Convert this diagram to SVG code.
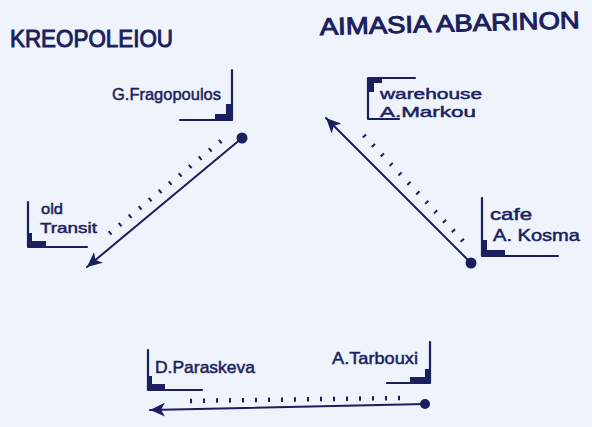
<svg xmlns="http://www.w3.org/2000/svg" width="592" height="427" viewBox="0 0 592 427">
<defs>
<style>
.ink{fill:none;stroke:#1b1f5e;stroke-width:2;stroke-linecap:round;stroke-linejoin:round}
.br{fill:none;stroke:#1b1f5e;stroke-width:2.2;stroke-linecap:round;stroke-linejoin:round}
.fill{fill:#1b1f5e}
.tick{fill:none;stroke:#1b1f5e;stroke-width:4.5;stroke-dasharray:2 11}
.lbl{font-family:"Liberation Sans",Arial,sans-serif;font-size:17px;fill:#1b1f5e;stroke:#1b1f5e;stroke-width:0.5}
.sm{font-size:15.5px}
.ttl{font-family:"Liberation Sans",Arial,sans-serif;font-size:24px;fill:#1b1f5e;stroke:#1b1f5e;stroke-width:1}
</style>
<marker id="ah" markerUnits="userSpaceOnUse" viewBox="0 0 16 14" markerWidth="16" markerHeight="14" refX="15" refY="7" orient="auto">
<path d="M15,7 L0,0 L4,7 L0,14 Z" fill="#1b1f5e"/>
</marker>
</defs>
<rect width="592" height="427" fill="#eef3fc"/>
<text class="ttl" x="10" y="47" textLength="163" lengthAdjust="spacingAndGlyphs">KREOPOLEIOU</text>
<text class="ttl" x="320" y="35" textLength="260" lengthAdjust="spacingAndGlyphs" transform="rotate(-1.5 320 35)">AIMASIA  ABARINON</text>

<g id="n-fragopoulos">
<path class="br" d="M232,70 V120 H180"/>
<path class="fill" d="M215,114 H226 V104 H232 V120 H215 Z"/>
<text class="lbl" x="112" y="100" textLength="109" lengthAdjust="spacingAndGlyphs">G.Fragopoulos</text>
</g>
<g id="n-oldtransit">
<path class="br" d="M28,202 V247 H87"/>
<path class="fill" d="M28,241 H46 V247 H28 Z M28,233 H32 V247 H28 Z"/>
<text class="lbl sm" x="41" y="214" textLength="22" lengthAdjust="spacingAndGlyphs">old</text>
<text class="lbl sm" x="40" y="233" textLength="57" lengthAdjust="spacingAndGlyphs">Transit</text>
</g>
<g id="n-warehouse">
<path class="br" d="M415,78 H368 V119 H399"/>
<path class="fill" d="M368,78 H382 V83 H374 V92 H368 Z"/>
<text class="lbl sm" x="380" y="99" textLength="102" lengthAdjust="spacingAndGlyphs">warehouse</text>
<text class="lbl sm" x="380" y="117" textLength="96" lengthAdjust="spacingAndGlyphs">A.Markou</text>
</g>
<g id="n-cafe">
<path class="br" d="M482,198 V256 H558"/>
<path class="fill" d="M482,250 H505 V256 H482 Z M482,240 H487 V256 H482 Z"/>
<text class="lbl" x="490" y="220" textLength="42" lengthAdjust="spacingAndGlyphs">cafe</text>
<text class="lbl" x="493" y="241" textLength="87" lengthAdjust="spacingAndGlyphs">A. Kosma</text>
</g>
<g id="n-paraskeva">
<path class="br" d="M148,350 V390 H202"/>
<path class="fill" d="M148,384 H165 V390 H148 Z M148,376 H152 V390 H148 Z"/>
<text class="lbl" x="155" y="373" textLength="100" lengthAdjust="spacingAndGlyphs">D.Paraskeva</text>
</g>
<g id="n-tarbouxi">
<path class="br" d="M430,342 V383 H387"/>
<path class="fill" d="M410,377 H425 V369 H430 V383 H410 Z"/>
<text class="lbl" x="332" y="364" textLength="86" lengthAdjust="spacingAndGlyphs">A.Tarbouxi</text>
</g>

<g id="connectors">
<line class="ink" x1="242" y1="138" x2="87" y2="267" marker-end="url(#ah)"/>
<circle class="fill" cx="242" cy="138" r="5.5"/>
<line class="tick" x1="221" y1="141" x2="105" y2="237"/>

<line class="ink" x1="471" y1="263" x2="326" y2="118" marker-end="url(#ah)"/>
<circle class="fill" cx="471" cy="263" r="5.5"/>
<line class="tick" x1="463" y1="241" x2="357" y2="128"/>

<line class="ink" x1="425" y1="404" x2="150" y2="410" marker-end="url(#ah)"/>
<circle class="fill" cx="425" cy="404" r="5"/>
<line class="tick" x1="400" y1="398" x2="186" y2="401"/>
</g>
</svg>
